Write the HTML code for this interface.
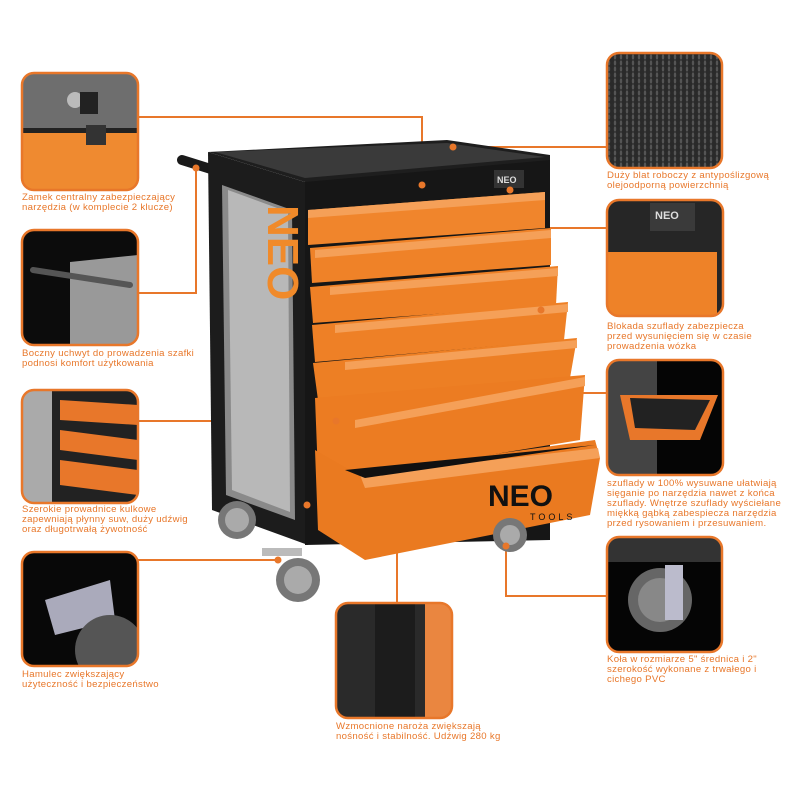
<!DOCTYPE html>
<html><head><meta charset="utf-8"><style>
html,body{margin:0;padding:0;background:#fff;width:800px;height:800px;overflow:hidden}
svg{display:block}
text{font-family:"Liberation Sans",sans-serif;font-size:9.6px;letter-spacing:0.3px;fill:#e8772a}
</style></head><body>
<svg width="800" height="800" viewBox="0 0 800 800" xmlns="http://www.w3.org/2000/svg">
<defs>
<clipPath id="c1"><rect x="22" y="73" width="116" height="117" rx="12"/></clipPath>
<clipPath id="c2"><rect x="22" y="230" width="116" height="115" rx="12"/></clipPath>
<clipPath id="c3"><rect x="22" y="390" width="116" height="113" rx="12"/></clipPath>
<clipPath id="c4"><rect x="22" y="552" width="116" height="114" rx="12"/></clipPath>
<clipPath id="c5"><rect x="336" y="603" width="116" height="115" rx="12"/></clipPath>
<clipPath id="r1"><rect x="607" y="53" width="115" height="115" rx="12"/></clipPath>
<clipPath id="r2"><rect x="607" y="200" width="116" height="116" rx="12"/></clipPath>
<clipPath id="r3"><rect x="607" y="360" width="116" height="115" rx="12"/></clipPath>
<clipPath id="r4"><rect x="607" y="537" width="115" height="115" rx="12"/></clipPath>
<pattern id="tex" width="6" height="6" patternUnits="userSpaceOnUse"><rect width="6" height="6" fill="#2a2a2a"/><ellipse cx="3" cy="3" rx="1.2" ry="2.6" fill="#555"/></pattern>
</defs>

<g stroke="#e8772a" stroke-width="2" fill="none">
<polyline points="138,117 422,117 422,185"/>
<polyline points="138,293 196,293 196,168"/>
<polyline points="138,421 336,421"/>
<polyline points="138,560 278,560"/>
<polyline points="397,603 397,505 307,505"/>
<polyline points="607,147 453,147"/>
<polyline points="607,228 510,228 510,190"/>
<polyline points="607,393 541,393 541,310"/>
<polyline points="607,596 506,596 506,546"/>
</g>

<g>
<path d="M182,160 L262,185" stroke="#1a1a1a" stroke-width="10" stroke-linecap="round"/>
<polygon points="208,152 305,182 308,545 212,510" fill="#1c1c1c"/>
<polygon points="222,185 292,210 295,520 226,495" fill="#8a8a8a"/>
<polygon points="228,190 288,212 290,512 232,490" fill="#b8b8b8"/>
<text x="0" y="0" transform="translate(268,205) rotate(90)" style="font-size:44px;font-weight:bold;fill:#f08a2a;letter-spacing:0">NEO</text>
<polygon points="208,152 447,140 550,155 550,200 305,210 305,182" fill="#1e1e1e"/>
<polygon points="215,152 447,143 545,157 305,178" fill="#3a3a3a"/>
<polygon points="305,182 550,160 550,540 305,545" fill="#161616"/>
<rect x="494" y="170" width="30" height="18" fill="#333"/>
<text x="497" y="183" style="font-size:9px;fill:#ddd;font-weight:bold;letter-spacing:0">NEO</text>
<polygon points="308,210 545,192 545,228 308,245" fill="#f0852c"/>
<polygon points="308,210 545,192 545,200 308,218" fill="#f5a058"/>
<polygon points="310,248 551,228 551,265 312,283" fill="#ef8228"/>
<polygon points="315,250 551,230 551,238 315,258" fill="#f5a058"/>
<polygon points="310,287 558,266 556,305 313,323" fill="#ee8026"/>
<polygon points="330,287 558,268 558,276 330,295" fill="#f5a058"/>
<polygon points="312,325 568,302 564,340 315,362" fill="#ee8026"/>
<polygon points="335,325 568,304 568,312 335,333" fill="#f5a058"/>
<polygon points="313,363 577,338 570,378 318,400" fill="#ed7f24"/>
<polygon points="345,362 577,340 577,348 345,370" fill="#f5a058"/>
<polygon points="315,398 585,375 580,440 350,478 318,475" fill="#ec7c22"/>
<polygon points="355,420 585,377 585,386 355,428" fill="#f5a058"/>
<polygon points="315,450 350,470 380,470 595,440 600,458 590,515 365,560 318,530" fill="#ea7a20"/>
<polygon points="360,475 598,448 600,458 365,488" fill="#f5a058"/>
<polygon points="345,470 595,445 365,478" fill="#111"/>
<text x="488" y="506" style="font-size:30px;font-weight:bold;fill:#111;letter-spacing:0">NEO</text>
<text x="530" y="520" style="font-size:9px;fill:#111;letter-spacing:3px">TOOLS</text>
<circle cx="237" cy="520" r="19" fill="#777"/><circle cx="237" cy="520" r="12" fill="#aaa"/>
<circle cx="298" cy="580" r="22" fill="#777"/><circle cx="298" cy="580" r="14" fill="#aaa"/>
<circle cx="510" cy="535" r="17" fill="#777"/><circle cx="510" cy="535" r="10" fill="#aaa"/>
<rect x="262" y="548" width="40" height="8" fill="#bbb"/>
</g>

<g fill="#e8772a">
<circle cx="422" cy="185" r="3.5"/><circle cx="196" cy="168" r="3.5"/><circle cx="336" cy="421" r="3.5"/>
<circle cx="278" cy="560" r="3.5"/><circle cx="307" cy="505" r="3.5"/><circle cx="453" cy="147" r="3.5"/>
<circle cx="510" cy="190" r="3.5"/><circle cx="541" cy="310" r="3.5"/><circle cx="506" cy="546" r="3.5"/>
</g>

<g clip-path="url(#c1)"><rect x="22" y="73" width="116" height="117" fill="#6e6e6e"/><rect x="22" y="130" width="116" height="60" fill="#ef8a30"/><rect x="22" y="128" width="116" height="5" fill="#222"/><circle cx="75" cy="100" r="8" fill="#bbb"/><rect x="80" y="92" width="18" height="22" fill="#222"/><rect x="86" y="125" width="20" height="20" fill="#333"/></g>
<g clip-path="url(#c2)"><rect x="22" y="230" width="116" height="115" fill="#0c0c0c"/><polygon points="70,262 138,255 138,345 70,345" fill="#999"/><path d="M33,270 L130,285" stroke="#555" stroke-width="6" stroke-linecap="round"/></g>
<g clip-path="url(#c3)"><rect x="22" y="390" width="116" height="113" fill="#222"/><rect x="22" y="390" width="30" height="113" fill="#aaa"/><polygon points="60,400 138,405 138,425 60,420" fill="#e8772a"/><polygon points="60,430 138,440 138,460 60,450" fill="#e8772a"/><polygon points="60,460 138,470 138,495 60,485" fill="#e8772a"/></g>
<g clip-path="url(#c4)"><rect x="22" y="552" width="116" height="114" fill="#080808"/><polygon points="45,600 110,580 115,620 55,635" fill="#aab"/><circle cx="110" cy="650" r="35" fill="#555"/></g>
<g clip-path="url(#c5)"><rect x="336" y="603" width="116" height="115" fill="#2a2a2a"/><rect x="375" y="603" width="40" height="115" fill="#1c1c1c"/><rect x="425" y="603" width="27" height="115" fill="#ea8640"/></g>
<g clip-path="url(#r1)"><rect x="607" y="53" width="115" height="115" fill="url(#tex)"/></g>
<g clip-path="url(#r2)"><rect x="607" y="200" width="116" height="116" fill="#262626"/><rect x="607" y="252" width="110" height="64" fill="#ee8228"/><rect x="650" y="203" width="45" height="28" fill="#3a3a3a"/><text x="655" y="219" style="font-size:11px;fill:#ddd;font-weight:bold;letter-spacing:0">NEO</text></g>
<g clip-path="url(#r3)"><rect x="607" y="360" width="116" height="115" fill="#050505"/><rect x="607" y="360" width="50" height="115" fill="#444"/><polygon points="620,395 718,395 700,440 630,440" fill="#e8772a"/><polygon points="630,398 710,400 695,430 635,428" fill="#222"/></g>
<g clip-path="url(#r4)"><rect x="607" y="537" width="115" height="115" fill="#050505"/><rect x="607" y="537" width="115" height="25" fill="#333"/><circle cx="660" cy="600" r="32" fill="#666"/><circle cx="660" cy="600" r="22" fill="#888"/><rect x="665" y="565" width="18" height="55" fill="#bbc"/></g>

<g fill="none" stroke="#e8772a" stroke-width="2.5">
<rect x="22" y="73" width="116" height="117" rx="12"/>
<rect x="22" y="230" width="116" height="115" rx="12"/>
<rect x="22" y="390" width="116" height="113" rx="12"/>
<rect x="22" y="552" width="116" height="114" rx="12"/>
<rect x="336" y="603" width="116" height="115" rx="12"/>
<rect x="607" y="53" width="115" height="115" rx="12"/>
<rect x="607" y="200" width="116" height="116" rx="12"/>
<rect x="607" y="360" width="116" height="115" rx="12"/>
<rect x="607" y="537" width="115" height="115" rx="12"/>
</g>

<text x="22" y="200">Zamek centralny zabezpieczający</text>
<text x="22" y="210">narzędzia (w komplecie 2 klucze)</text>
<text x="22" y="356">Boczny uchwyt do prowadzenia szafki</text>
<text x="22" y="366">podnosi komfort użytkowania</text>
<text x="22" y="512">Szerokie prowadnice kulkowe</text>
<text x="22" y="522">zapewniają płynny suw, duży udźwig</text>
<text x="22" y="532">oraz długotrwałą żywotność</text>
<text x="22" y="677">Hamulec zwiększający</text>
<text x="22" y="687">użyteczność i bezpieczeństwo</text>
<text x="336" y="729">Wzmocnione naroża zwiększają</text>
<text x="336" y="739">nośność i stabilność. Udźwig 280 kg</text>
<text x="607" y="178">Duży blat roboczy z antypoślizgową</text>
<text x="607" y="188">olejoodporną powierzchnią</text>
<text x="607" y="329">Blokada szuflady zabezpiecza</text>
<text x="607" y="339">przed wysunięciem się w czasie</text>
<text x="607" y="349">prowadzenia wózka</text>
<text x="607" y="486">szuflady w 100% wysuwane ułatwiają</text>
<text x="607" y="496">sięganie po narzędzia nawet z końca</text>
<text x="607" y="506">szuflady. Wnętrze szuflady wyściełane</text>
<text x="607" y="516">miękką gąbką zabespiecza narzędzia</text>
<text x="607" y="526">przed rysowaniem i przesuwaniem.</text>
<text x="607" y="662">Koła w rozmiarze 5" średnica i 2"</text>
<text x="607" y="672">szerokość wykonane z trwałego i</text>
<text x="607" y="682">cichego PVC</text>
</svg>
</body></html>
